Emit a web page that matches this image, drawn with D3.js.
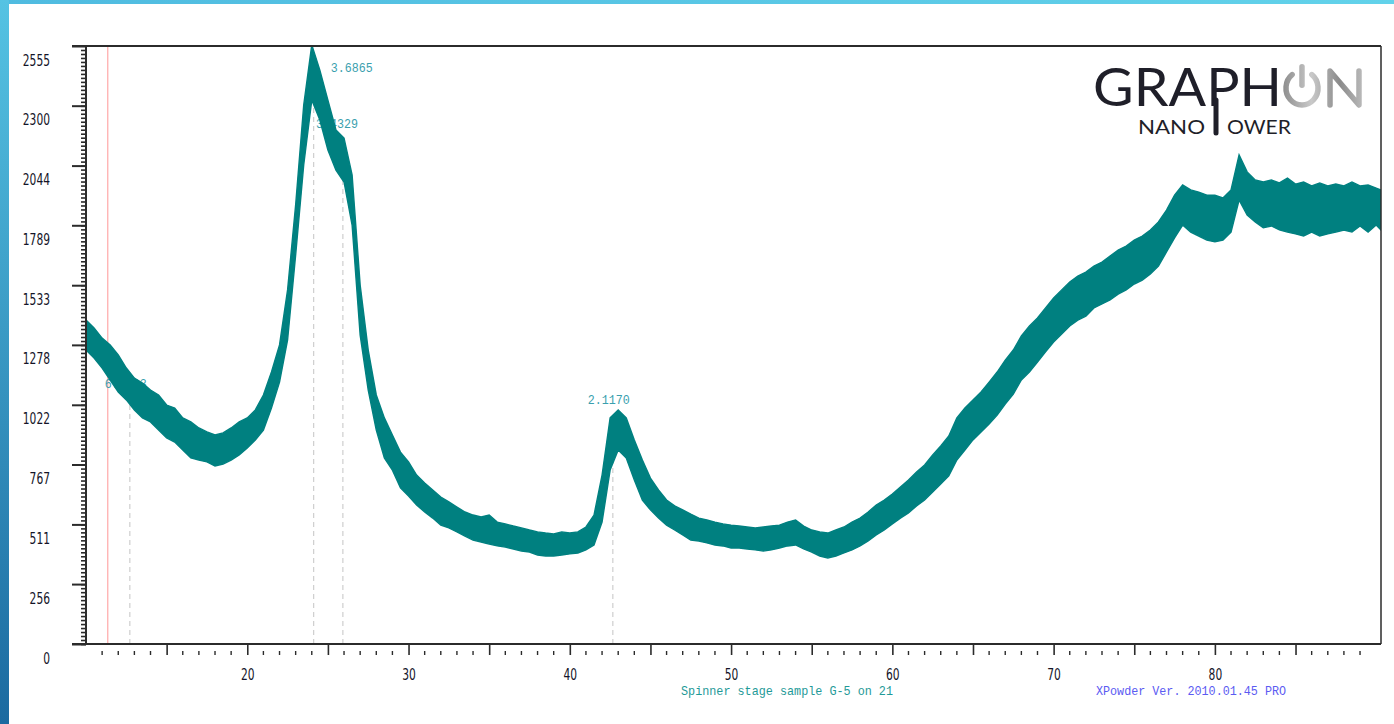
<!DOCTYPE html>
<html>
<head>
<meta charset="utf-8">
<script src="https://cdn.jsdelivr.net/npm/d3@7/dist/d3.min.js"></script>
<style>
  html, body { margin: 0; padding: 0; background: #fff; overflow: hidden; }
</style>
</head>
<body>
<div id="chart"></div>
<script>
// ---- data ----
const twoTheta = [10, 10.5, 11, 11.5, 12, 12.5, 13, 13.5, 14, 14.5, 15, 15.5, 16, 16.5, 17, 17.5, 18, 18.5, 19, 19.5,
  20, 20.5, 21, 21.5, 22, 22.5, 23, 23.5, 24, 24.5, 25, 25.5, 26, 26.5, 27, 27.5, 28, 28.5, 29, 29.5,
  30, 30.5, 31, 31.5, 32, 32.5, 33, 33.5, 34, 34.5, 35, 35.5, 36, 36.5, 37, 37.5, 38, 38.5, 39, 39.5,
  40, 40.5, 41, 41.5, 42, 42.5, 43, 43.5, 44, 44.5, 45, 45.5, 46, 46.5, 47, 47.5, 48, 48.5, 49, 49.5,
  50, 50.5, 51, 51.5, 52, 52.5, 53, 53.5, 54, 54.5, 55, 55.5, 56, 56.5, 57, 57.5, 58, 58.5, 59, 59.5,
  60, 60.5, 61, 61.5, 62, 62.5, 63, 63.5, 64, 64.5, 65, 65.5, 66, 66.5, 67, 67.5, 68, 68.5, 69, 69.5,
  70, 70.5, 71, 71.5, 72, 72.5, 73, 73.5, 74, 74.5, 75, 75.5, 76, 76.5, 77, 77.5, 78, 78.5, 79, 79.5,
  80, 80.5, 81, 81.5, 82, 82.5, 83, 83.5, 84, 84.5, 85, 85.5, 86, 86.5, 87, 87.5, 88, 88.5, 89, 89.5,
  90, 90.3];

// top and bottom of the noisy trace (counts)
const upperCounts = [1384, 1350, 1307, 1278, 1235, 1179, 1136, 1115, 1085, 1064, 1021, 1008, 966, 949, 923, 906, 893, 902, 923, 949,
  966, 1000, 1064, 1162, 1278, 1513, 1876, 2303, 2560, 2452, 2324, 2196, 2162, 2004, 1534, 1256, 1064, 966, 893, 820,
  778, 722, 688, 658, 628, 607, 585, 564, 551, 543, 551, 521, 513, 504, 496, 487, 479, 474, 470, 479,
  474, 479, 500, 551, 722, 966, 1000, 966, 872, 786, 709, 658, 615, 590, 573, 555, 538, 530, 521, 513,
  508, 504, 500, 496, 500, 504, 508, 521, 530, 504, 487, 479, 474, 487, 500, 521, 538, 564, 594, 615,
  641, 671, 701, 735, 765, 808, 846, 889, 966, 1008, 1043, 1077, 1119, 1162, 1213, 1256, 1316, 1359, 1393, 1436,
  1478, 1513, 1547, 1572, 1589, 1615, 1632, 1658, 1683, 1700, 1726, 1743, 1769, 1803, 1854, 1918, 1961, 1940, 1931, 1918,
  1918, 1906, 1940, 2090, 2017, 1983, 1974, 1983, 1970, 1991, 1965, 1974, 1957, 1970, 1957, 1965, 1957, 1974, 1957, 1961,
  1948, 1940];

const lowerCounts = [1256, 1222, 1179, 1128, 1077, 1043, 1000, 966, 949, 914, 880, 863, 829, 795, 786, 778, 761, 769, 786, 808,
  837, 872, 914, 1008, 1119, 1299, 1662, 2047, 2324, 2239, 2111, 2025, 1974, 1790, 1320, 1085, 914, 795, 743, 667,
  632, 594, 564, 538, 508, 496, 479, 461, 444, 436, 427, 419, 414, 406, 397, 393, 380, 376, 376, 380,
  385, 389, 402, 423, 521, 743, 829, 795, 701, 615, 573, 538, 508, 487, 466, 444, 440, 432, 423, 419,
  410, 410, 406, 402, 397, 402, 410, 419, 423, 406, 393, 376, 367, 376, 389, 402, 419, 440, 466, 487,
  513, 538, 560, 590, 615, 649, 684, 718, 786, 829, 872, 906, 940, 978, 1025, 1068, 1128, 1162, 1205, 1248,
  1290, 1324, 1359, 1384, 1401, 1436, 1453, 1470, 1495, 1513, 1538, 1555, 1581, 1615, 1675, 1735, 1790, 1760, 1743, 1726,
  1718, 1726, 1760, 1897, 1833, 1803, 1778, 1786, 1769, 1760, 1752, 1743, 1760, 1743, 1752, 1760, 1769, 1760, 1786, 1760,
  1790, 1769];

const yTickValues = [0, 256, 511, 767, 1022, 1278, 1533, 1789, 2044, 2300, 2555];
const xTickLabels = [20, 30, 40, 50, 60, 70, 80];

// identified peaks: d-spacing label, position, label height
const peakD = ["6.9513", "3.6865", "3.4329", "2.1170"];
const peak2Theta = [12.72, 24.12, 25.93, 42.67];
const peakLabelCounts = [1094, 2444, 2205, 1025];

const cursor2Theta = 11.35;
const sampleTitle = "Spinner stage sample G-5 on 21";
const softwareTitle = "XPowder Ver. 2010.01.45 PRO";

// ---- layout ----
const W = 1394, H = 724;
const plot = {left: 86, right: 1381, top: 46, bottom: 644};
const peakLabelDx = [-25, 17, -27, -25];
const traceColor = "#008080";
const axisColor = "#2b2b2b";
const labelFont = "'Liberation Sans Narrow', 'DejaVu Sans Condensed', 'Liberation Sans', sans-serif";
const monoFont = "'Liberation Mono', 'DejaVu Sans Mono', monospace";

const svg = d3.select("#chart")
  .append("svg")
    .attr("width", W)
    .attr("height", H);

const defs = svg.append("defs");

const sideGrad = defs.append("linearGradient")
  .attr("id", "sideGrad").attr("x1", 0).attr("y1", 0).attr("x2", 0).attr("y2", 1);
sideGrad.append("stop").attr("offset", "0%").attr("stop-color", "#55c3e3");
sideGrad.append("stop").attr("offset", "100%").attr("stop-color", "#1b6aa0");

const topGrad = defs.append("linearGradient")
  .attr("id", "topGrad").attr("x1", 0).attr("y1", 0).attr("x2", 1).attr("y2", 0);
topGrad.append("stop").attr("offset", "0%").attr("stop-color", "#4fbbe0");
topGrad.append("stop").attr("offset", "100%").attr("stop-color", "#62d2ea");

const greyGrad = defs.append("linearGradient")
  .attr("id", "greyGrad").attr("gradientUnits", "userSpaceOnUse")
  .attr("x1", 1283).attr("y1", 0).attr("x2", 1364).attr("y2", 0);
greyGrad.append("stop").attr("offset", "0%").attr("stop-color", "#8e8e8e");
greyGrad.append("stop").attr("offset", "35%").attr("stop-color", "#c9c9c9");
greyGrad.append("stop").attr("offset", "70%").attr("stop-color", "#8a8a8a");
greyGrad.append("stop").attr("offset", "100%").attr("stop-color", "#bdbdbd");

defs.append("clipPath").attr("id", "plotClip")
  .append("rect")
    .attr("x", plot.left).attr("y", plot.top)
    .attr("width", plot.right - plot.left).attr("height", plot.bottom - plot.top);

// slide frame
svg.append("rect").attr("x", 0).attr("y", 0).attr("width", W).attr("height", 4).attr("fill", "url(#topGrad)");
svg.append("rect").attr("x", 0).attr("y", 0).attr("width", 9).attr("height", H).attr("fill", "url(#sideGrad)");

// scales
const xScale = d3.scaleLinear().domain([10, 90.3]).range([plot.left, plot.right]);
const yScale = d3.scaleLinear().domain([0, 2555]).range([plot.bottom, plot.top]);

const points = twoTheta.map((t, i) => ({t: t, hi: upperCounts[i], lo: lowerCounts[i]}));
const bis = d3.bisector(d => d.t).left;
function lowAt(t) {
  const i = Math.max(1, bis(points, t));
  const a = points[i - 1], b = points[i];
  const f = (t - a.t) / (b.t - a.t);
  return a.lo + f * (b.lo - a.lo);
}

// cursor line
svg.append("line")
  .attr("x1", xScale(cursor2Theta)).attr("x2", xScale(cursor2Theta))
  .attr("y1", plot.top).attr("y2", plot.bottom)
  .attr("stroke", "#ffa8a8").attr("stroke-width", 1.2);

// dashed peak markers
svg.selectAll(".peakline")
  .data(peak2Theta)
  .enter()
  .append("line")
    .attr("class", "peakline")
    .attr("x1", d => xScale(d)).attr("x2", d => xScale(d))
    .attr("y1", plot.bottom)
    .attr("y2", d => yScale(lowAt(d)))
    .attr("stroke", "#c4c4c4")
    .attr("stroke-width", 1)
    .attr("stroke-dasharray", "5,4");

// peak labels (drawn under the trace)
svg.selectAll(".peaklabel")
  .data(peakD)
  .enter()
  .append("text")
    .attr("class", "peaklabel")
    .attr("x", (d, i) => xScale(peak2Theta[i]) + peakLabelDx[i])
    .attr("y", (d, i) => yScale(peakLabelCounts[i]))
    .attr("font-family", monoFont)
    .attr("font-size", 12.5)
    .attr("fill", "#3a9fae")
    .attr("textLength", 42)
    .attr("lengthAdjust", "spacingAndGlyphs")
    .text(d => d);

// the trace as a band between its lower and upper excursions
const band = d3.area()
  .x(d => xScale(d.t))
  .y0(d => yScale(d.lo))
  .y1(d => yScale(d.hi));

svg.append("path")
  .datum(points)
  .attr("clip-path", "url(#plotClip)")
  .attr("d", band)
  .attr("fill", traceColor)
  .attr("stroke", traceColor)
  .attr("stroke-width", 1.4)
  .attr("stroke-linejoin", "miter");

// ---- axes ----
const yMajor = svg.append("g")
  .attr("transform", `translate(${plot.left},0)`)
  .call(d3.axisLeft(yScale).tickValues(yTickValues).tickSize(14).tickPadding(22).tickFormat(d => String(d)));
yMajor.select(".domain").remove();
yMajor.selectAll("line").attr("stroke", axisColor).attr("stroke-width", 2);
yMajor.selectAll("text")
  .attr("y", 13.5)
  .attr("dy", "0.35em")
  .attr("font-family", labelFont)
  .attr("font-size", 16)
  .attr("fill", "#141428")
  .attr("textLength", d => String(d).length * 6.8)
  .attr("lengthAdjust", "spacingAndGlyphs");

const yMinor = svg.append("g")
  .attr("transform", `translate(${plot.left},0)`)
  .call(d3.axisLeft(yScale).tickValues(d3.range(0, 2555, 2555 / 150)).tickSize(5).tickFormat(""));
yMinor.select(".domain").remove();
yMinor.selectAll("line").attr("stroke", axisColor).attr("stroke-width", 1.6);

const xMajor = svg.append("g")
  .attr("transform", `translate(0,${plot.bottom})`)
  .call(d3.axisBottom(xScale).tickValues(d3.range(15, 90, 5)).tickSize(11)
    .tickFormat(d => xTickLabels.includes(d) ? String(d) : "").tickPadding(14));
xMajor.select(".domain").remove();
xMajor.selectAll("line").attr("stroke", axisColor).attr("stroke-width", 1.6);
xMajor.selectAll("text")
  .attr("font-family", labelFont)
  .attr("font-size", 16)
  .attr("fill", "#141428")
  .filter(d => xTickLabels.includes(d))
  .attr("textLength", 13.6)
  .attr("lengthAdjust", "spacingAndGlyphs");

svg.append("g")
  .selectAll("line")
  .data(d3.range(11, 91).filter(d => d % 5 !== 0))
  .enter()
  .append("line")
    .attr("x1", d => xScale(d)).attr("x2", d => xScale(d))
    .attr("y1", plot.bottom + 7).attr("y2", plot.bottom + 11)
    .attr("stroke", axisColor).attr("stroke-width", 1.4);

// frame lines
const frame = svg.append("g").attr("stroke", axisColor);
frame.append("line").attr("x1", 72).attr("x2", plot.right).attr("y1", plot.top).attr("y2", plot.top).attr("stroke-width", 2);
frame.append("line").attr("x1", 72).attr("x2", plot.right).attr("y1", plot.bottom).attr("y2", plot.bottom).attr("stroke-width", 2);
frame.append("line").attr("x1", plot.left).attr("x2", plot.left).attr("y1", plot.top).attr("y2", plot.bottom).attr("stroke-width", 2);
frame.append("line").attr("x1", plot.right).attr("x2", plot.right).attr("y1", plot.top).attr("y2", plot.bottom).attr("stroke-width", 1.5);

// captions
svg.append("text")
  .attr("x", 681).attr("y", 695)
  .attr("font-family", monoFont).attr("font-size", 13)
  .attr("fill", "#1f9a98")
  .attr("textLength", 212).attr("lengthAdjust", "spacingAndGlyphs")
  .text(sampleTitle);

svg.append("text")
  .attr("x", 1096).attr("y", 695)
  .attr("font-family", monoFont).attr("font-size", 13)
  .attr("fill", "#5b5bf2")
  .attr("textLength", 190).attr("lengthAdjust", "spacingAndGlyphs")
  .text(softwareTitle);

// ---- logo ----
const logo = svg.append("g");
logo.append("text")
  .attr("x", 1093).attr("y", 106)
  .attr("font-family", "Lato, 'Open Sans', sans-serif")
  .attr("font-size", 52)
  .attr("fill", "#1f1f29")
  .attr("textLength", 189)
  .attr("lengthAdjust", "spacingAndGlyphs")
  .text("GRAPH");

const oc = {x: 1302, y: 88, rx: 16, ry: 17};
const ang = 38 * Math.PI / 180;
logo.append("path")
  .attr("d", `M${oc.x + oc.rx * Math.sin(ang)},${oc.y - oc.ry * Math.cos(ang)}
    A${oc.rx},${oc.ry} 0 1 1 ${oc.x - oc.rx * Math.sin(ang)},${oc.y - oc.ry * Math.cos(ang)}`)
  .attr("fill", "none")
  .attr("stroke", "url(#greyGrad)")
  .attr("stroke-width", 5.5)
  .attr("stroke-linecap", "round");
logo.append("rect")
  .attr("x", oc.x - 2.75).attr("y", 64).attr("width", 5.5).attr("height", 24).attr("rx", 2.75)
  .attr("fill", "url(#greyGrad)");
logo.append("path")
  .attr("d", "M1330,105 V71 L1359,105 V71")
  .attr("fill", "none")
  .attr("stroke", "url(#greyGrad)")
  .attr("stroke-width", 5.5)
  .attr("stroke-linecap", "round")
  .attr("stroke-linejoin", "round");

logo.append("text")
  .attr("x", 1138).attr("y", 134)
  .attr("font-family", "Lato, 'Open Sans', sans-serif")
  .attr("font-size", 18.5)
  .attr("fill", "#1f1f29")
  .attr("textLength", 67)
  .attr("lengthAdjust", "spacingAndGlyphs")
  .text("NANO");
logo.append("line")
  .attr("x1", 1216).attr("x2", 1216).attr("y1", 100).attr("y2", 133)
  .attr("stroke", "#1f1f29").attr("stroke-width", 5).attr("stroke-linecap", "round");
logo.append("text")
  .attr("x", 1227).attr("y", 134)
  .attr("font-family", "Lato, 'Open Sans', sans-serif")
  .attr("font-size", 18.5)
  .attr("fill", "#1f1f29")
  .attr("textLength", 64)
  .attr("lengthAdjust", "spacingAndGlyphs")
  .text("OWER");
</script>
</body>
</html>
